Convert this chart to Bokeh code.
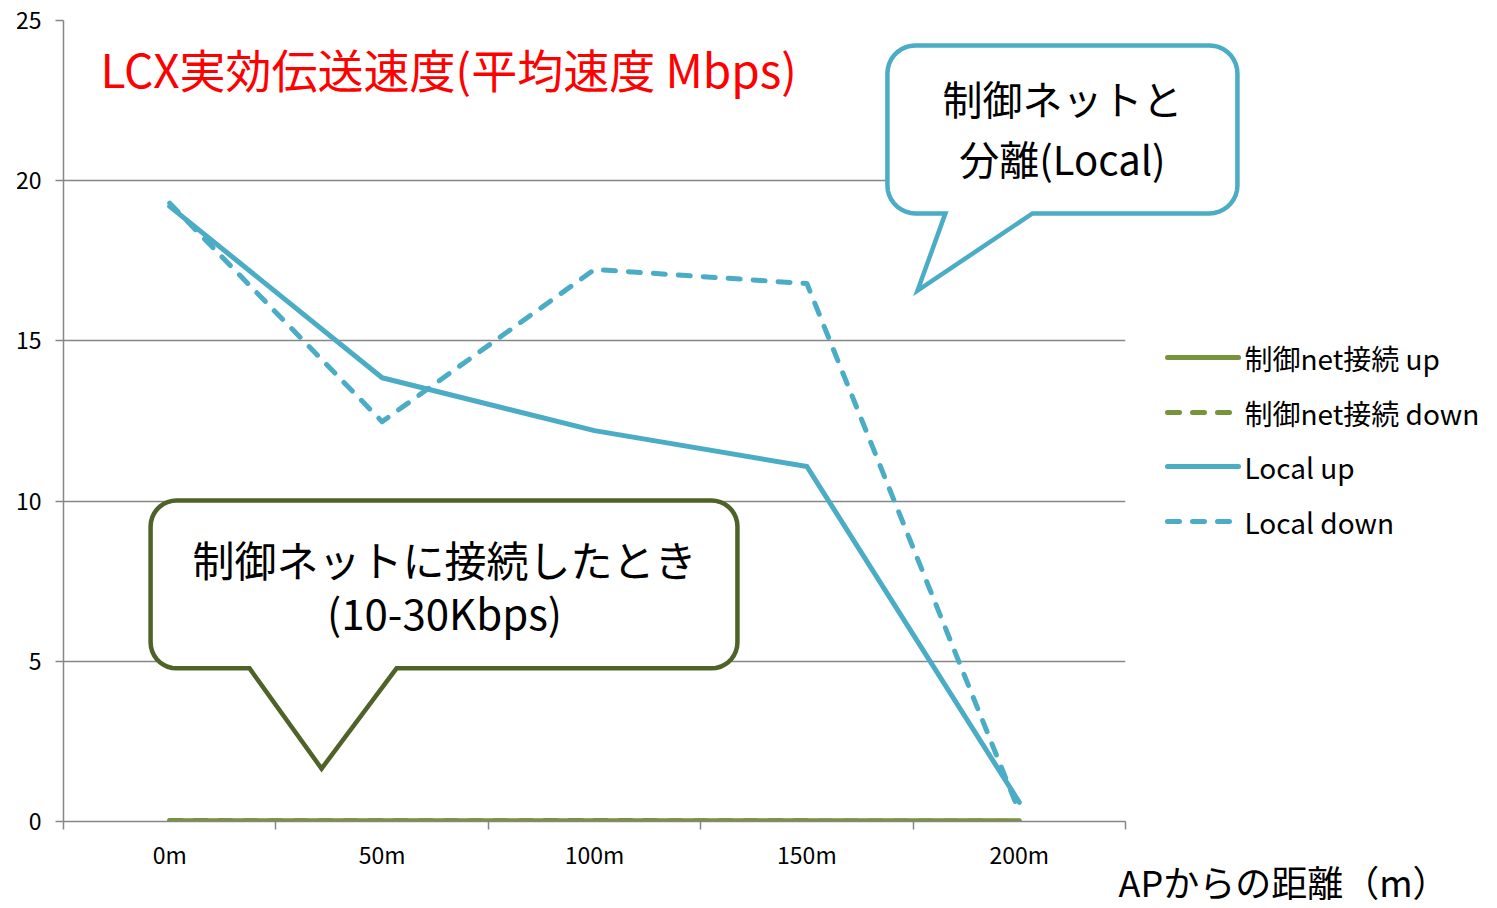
import numpy as np
from bokeh.plotting import figure
from bokeh.models import FixedTicker, Range1d
from bokeh.core.properties import value
from bokeh.embed import file_html
from bokeh.resources import INLINE

# ---- data -------------------------------------------------------------
distances = ["0m", "50m", "100m", "150m", "200m"]
ctrl_up = [0.02, 0.02, 0.02, 0.02, 0.02]
ctrl_down = [0.03, 0.02, 0.03, 0.02, 0.01]
local_up = [19.2, 13.85, 12.2, 11.08, 0.6]
local_down = [19.3, 12.48, 17.23, 16.79, 0.3]
y_ticks = [0, 5, 10, 15, 20, 25]
series_names = ["制御net接続 up", "制御net接続 down", "Local up", "Local down"]

title_text = "LCX実効伝送速度(平均速度 Mbps)"
x_title = "APからの距離（m）"
note_local = ["制御ネットと", "分離(Local)"]
note_ctrl = ["制御ネットに接続したとき", "(10-30Kbps)"]

FONT = "Noto Sans CJK JP"
GREEN = "#77933C"
DARK_GREEN = "#4F6228"
BLUE = "#4BACC6"
GRID = "#868686"
DASH = "12 13"

FRAME_W, FRAME_H = 1062, 801
N = len(distances)
Y_MAX = 25
PX_X = FRAME_W / N      # pixels per category slot
PX_Y = FRAME_H / Y_MAX  # pixels per Mbps


def dx(px):
    """Horizontal pixel offset from the frame's left edge -> data x."""
    return px / PX_X


def dy(px):
    """Vertical pixel offset from the frame's bottom edge -> data y."""
    return px / PX_Y


xc = np.arange(N) + 0.5  # category centres

p = figure(frame_width=FRAME_W, frame_height=FRAME_H,
           x_range=Range1d(0, N), y_range=Range1d(0, Y_MAX),
           output_backend="svg", toolbar_location=None,
           min_border_left=63, min_border_right=372,
           min_border_top=20, min_border_bottom=87)
p.outline_line_color = None
p.background_fill_color = "white"
p.border_fill_color = "white"

# ---- axes -------------------------------------------------------------
p.xgrid.visible = False
p.ygrid.ticker = FixedTicker(ticks=y_ticks)
p.ygrid.grid_line_color = GRID
p.ygrid.grid_line_width = 1.5

yax = p.yaxis[0]
yax.ticker = FixedTicker(ticks=y_ticks)
yax.axis_line_color = GRID
yax.axis_line_width = 1.5
yax.major_tick_line_color = GRID
yax.major_tick_line_width = 1.5
yax.major_tick_out = 8
yax.major_tick_in = 0
yax.minor_tick_line_color = None
yax.major_label_standoff = 14
yax.major_label_text_font = FONT
yax.major_label_text_font_size = "23px"
yax.major_label_text_color = "black"

xax = p.xaxis[0]
xax.ticker = FixedTicker(ticks=list(xc), minor_ticks=list(range(N + 1)))
xax.major_label_overrides = {float(c): d for c, d in zip(xc, distances)}
xax.axis_line_color = GRID
xax.axis_line_width = 1.5
xax.major_tick_line_color = None
xax.minor_tick_line_color = GRID
xax.minor_tick_line_width = 1.5
xax.minor_tick_out = 8
xax.minor_tick_in = 0
xax.major_label_standoff = 7
xax.major_label_text_font = FONT
xax.major_label_text_font_size = "23px"
xax.major_label_text_color = "black"

# ---- series -----------------------------------------------------------
styles = [
    dict(line_color=GREEN),
    dict(line_color=GREEN, line_dash=DASH),
    dict(line_color=BLUE),
    dict(line_color=BLUE, line_dash=DASH),
]
for vals, st in zip([ctrl_up, ctrl_down, local_up, local_down], styles):
    p.line(xc, vals, line_width=5, line_cap="round", line_join="round", **st)

# ---- legend (drawn in the right margin) -------------------------------
leg_rows = [464, 409, 355, 300]          # row centres, px above frame bottom
leg_x0, leg_x1, leg_tx = 1104, 1175, 1181  # px right of frame left edge
for row, name, st in zip(leg_rows, series_names, styles):
    p.segment(x0=[dx(leg_x0)], y0=[dy(row)], x1=[dx(leg_x1)], y1=[dy(row)],
              line_width=5, line_cap="round", level="overlay", **st)
p.text(x=[dx(leg_tx)] * len(series_names), y=[dy(r) for r in leg_rows],
       text=series_names, text_font=value(FONT), text_font_size="28px",
       text_color="black", text_align="left", text_baseline="middle",
       level="overlay")


# ---- speech-bubble callouts -------------------------------------------
def bubble(x0, x1, y0, y1, tail_a, tail_b, tip, radius=26, steps=10):
    """Rounded box (data units) with a triangular tail on its bottom edge."""
    rx, ry = radius / PX_X, radius / PX_Y
    xs, ys = [], []

    def arc(cx, cy, a0, a1):
        for t in np.linspace(a0, a1, steps):
            xs.append(cx + rx * np.cos(t))
            ys.append(cy + ry * np.sin(t))

    arc(x0 + rx, y1 - ry, np.pi, np.pi / 2)            # top-left
    arc(x1 - rx, y1 - ry, np.pi / 2, 0)                # top-right
    arc(x1 - rx, y0 + ry, 0, -np.pi / 2)               # bottom-right
    xs += [tail_b, tip[0], tail_a]
    ys += [y0, tip[1], y0]
    arc(x0 + rx, y0 + ry, -np.pi / 2, -np.pi)          # bottom-left
    xs.append(xs[0]); ys.append(ys[0])
    return xs, ys


bx, by = bubble(3.879, 5.527, 18.98, 24.22, 4.152, 4.562, (4.021, 16.57), radius=28)
p.patch(bx, by, fill_color="white", line_color=BLUE, line_width=4.5,
        line_join="miter", level="overlay")

gx, gy = bubble(0.410, 3.173, 4.78, 10.02, 0.876, 1.568, (1.215, 1.65), radius=26)
p.patch(gx, gy, fill_color="white", line_color=DARK_GREEN, line_width=4.5,
        line_join="miter", level="overlay")

p.text(x=[4.703, 4.703], y=[22.58, 20.7], text=note_local,
       text_font=value(FONT), text_font_size="40px", text_color="black",
       text_align="center", text_baseline="middle", level="overlay")
p.text(x=[1.794, 1.794], y=[8.2, 6.55], text=note_ctrl,
       text_font=value(FONT), text_font_size="42px", text_color="black",
       text_align="center", text_baseline="middle", level="overlay")

# ---- titles -----------------------------------------------------------
p.text(x=[0.174], y=[23.52], text=[title_text],
       text_font=value(FONT), text_font_size="46px", text_color="#FF0000",
       text_align="left", text_baseline="middle", level="overlay")
p.text(x=[4.967], y=[-1.86], text=[x_title],
       text_font=value(FONT), text_font_size="36px", text_color="black",
       text_align="left", text_baseline="middle", level="overlay")

open("out.html", "w").write(file_html(p, INLINE))
